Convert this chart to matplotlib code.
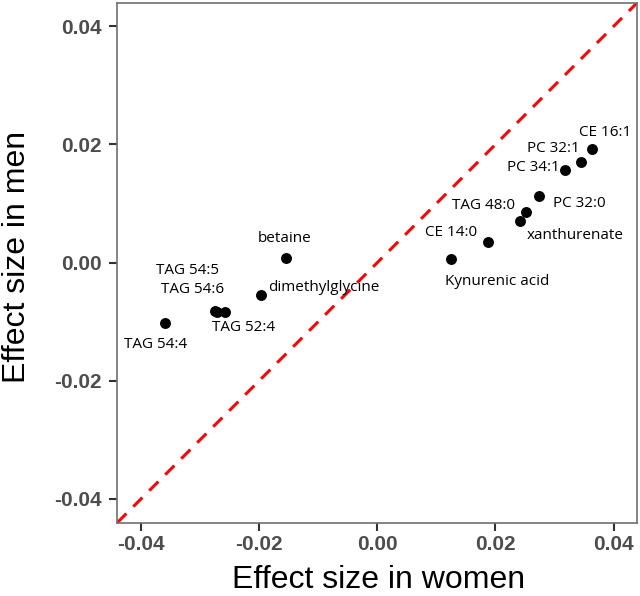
import matplotlib
matplotlib.use("Agg")
import matplotlib.pyplot as plt

# ---- data ----
metabolites = ["CE 16:1", "PC 32:1", "PC 34:1", "PC 32:0", "TAG 48:0",
               "xanthurenate", "CE 14:0", "Kynurenic acid", "betaine",
               "dimethylglycine", "TAG 54:5", "TAG 54:6", "TAG 52:4", "TAG 54:4"]
effect_women = [0.0364, 0.0345, 0.0317, 0.0273, 0.0252,
                0.0241, 0.0188, 0.0124, -0.0155,
                -0.0196, -0.0275, -0.0272, -0.0257, -0.0359]
effect_men = [0.0192, 0.0171, 0.0157, 0.0113, 0.0086,
              0.0071, 0.0035, 0.0006, 0.0007,
              -0.0055, -0.0082, -0.0083, -0.0084, -0.0102]
ticks = [-0.04, -0.02, 0.00, 0.02, 0.04]
tick_labels = ["-0.04", "-0.02", "0.00", "0.02", "0.04"]

# label offsets in pixels (dx, dy) relative to each point
label_offsets = [(13, 17), (-28, 13), (-31, 2), (41, -8), (-43, 6),
                 (55, -15), (-37, 9), (47, -22), (-1, 20),
                 (62, 8), (-27, 41), (-24, 22), (18, -15), (-10, -22)]

fig = plt.figure(figsize=(6.4, 5.96), dpi=100)
ax = fig.add_axes([117.3 / 640, (596 - 522.6) / 596, 520 / 640, 520 / 596])

lim = (-0.044, 0.044)
ax.set_xlim(lim)
ax.set_ylim(lim)

ax.axline((0, 0), slope=1, color="#FF0000", linewidth=2.2,
          dashes=(4.2, 3.2), zorder=1)
ax.scatter(effect_women, effect_men, s=62, color="black", zorder=3,
           linewidths=0)

for name, x, y, (dx, dy) in zip(metabolites, effect_women, effect_men, label_offsets):
    ax.annotate(name, (x, y), xytext=(dx, dy), textcoords="offset pixels",
                ha="center", va="center", fontsize=11, family="Open Sans",
                color="black", zorder=4)

ax.set_xticks(ticks)
ax.set_xticklabels(tick_labels)
ax.set_yticks(ticks)
ax.set_yticklabels(tick_labels)
for lbl in ax.get_xticklabels() + ax.get_yticklabels():
    lbl.set_fontfamily("Liberation Sans")
    lbl.set_fontweight("bold")
    lbl.set_fontsize(15)
    lbl.set_color("#4D4D4D")
ax.tick_params(axis="both", length=6.1, width=1.5, color="#333333")
ax.tick_params(axis="x", pad=3.0)
ax.tick_params(axis="y", pad=5.0)

for sp in ax.spines.values():
    sp.set_color("#707070")
    sp.set_linewidth(1.2)

ax.set_xlabel("Effect size in women", fontsize=23, family="Liberation Sans",
              color="black", va="baseline", ha="center")
ax.xaxis.set_label_coords(0.503, -(588.5 - 522.6) / 520)
ax.set_ylabel("Effect size in men", fontsize=23, family="Liberation Sans",
              color="black", va="baseline", ha="center")
ax.yaxis.set_label_coords(-(117.3 - 25) / 520, (522.6 - 257) / 520)

fig.savefig("out.png", dpi=100)
